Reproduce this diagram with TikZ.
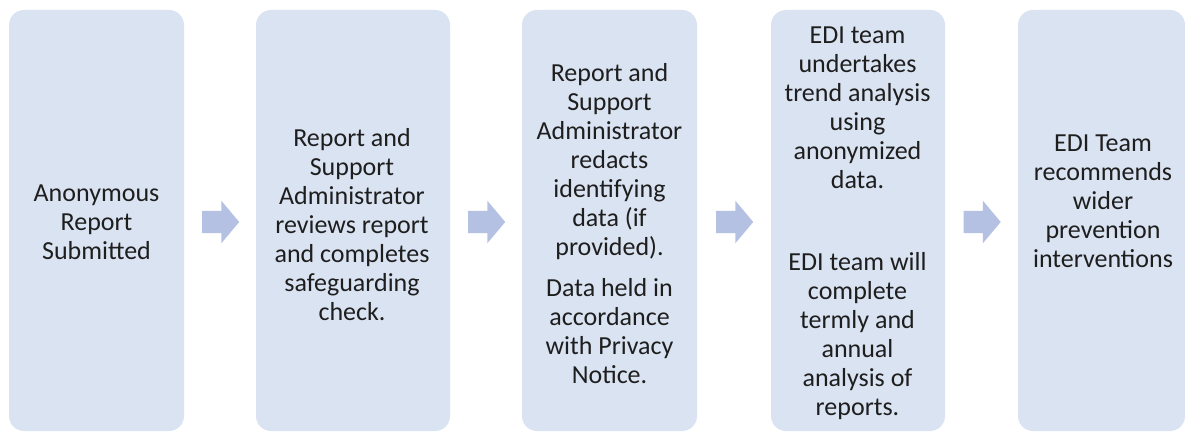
\documentclass[tikz,border=0pt]{standalone}
\usepackage{fontspec}
\setmainfont{Carlito}
\usetikzlibrary{shapes.arrows,calc}
\definecolor{boxc}{HTML}{DAE3F1}
\definecolor{arrowc}{HTML}{B4C1E2}
\definecolor{txtc}{HTML}{1E1E1E}
\tikzset{
  stepbox/.style={rectangle, rounded corners=15pt, fill=boxc, draw=none, inner sep=0pt},
  steptext/.style={align=center, text=txtc, font=\fontsize{26}{29}\selectfont, inner sep=0pt},
  flowarrow/.style={single arrow, fill=arrowc, draw=none, minimum height=37pt, minimum width=42pt,
    inner xsep=0pt, inner ysep=11pt, single arrow tip angle=100, single arrow head extend=10pt}
}
\begin{document}
\begin{tikzpicture}[x=1pt,y=-1pt]
\useasboundingbox (0,0) rectangle (1185,433);
% boxes
\node[stepbox, minimum width=175pt, minimum height=421pt] (b1) at (96.5,220.5) {};
\node[stepbox, minimum width=194pt, minimum height=421pt] (b2) at (353,220.5) {};
\node[stepbox, minimum width=175pt, minimum height=421pt] (b3) at (609.5,220.5) {};
\node[stepbox, minimum width=174pt, minimum height=421pt] (b4) at (858,220.5) {};
\node[stepbox, minimum width=167pt, minimum height=421pt] (b5) at (1101.5,220.5) {};
% texts
\node[steptext] (t1) at (96.5,222.5) {Anonymous\\Report\\Submitted};
\node[steptext] (t2) at (352,224.5) {Report and\\Support\\Administrator\\reviews report\\and completes\\safeguarding\\check.};
\node[steptext] (t3) at (609.5,224) {Report and\\Support\\Administrator\\redacts\\identifying\\data (if\\provided).\\[12pt]Data held in\\accordance\\with Privacy\\Notice.};
\node[steptext] (t4) at (857.5,223.5) {EDI team\\undertakes\\trend analysis\\using\\anonymized\\data.\\[53pt]EDI team will\\complete\\termly and\\annual\\analysis of\\reports.};
\node[steptext] (t5) at (1103,201.5) {EDI Team\\recommends\\wider\\prevention\\interventions};
% arrows
\node[flowarrow] (a1) at ($(b1.east)!0.5!(b2.west)+(-4,1.5)$) {};
\node[flowarrow] (a2) at ($(b2.east)!0.5!(b3.west)+(-4,1.5)$) {};
\node[flowarrow] (a3) at ($(b3.east)!0.5!(b4.west)+(-4,1.5)$) {};
\node[flowarrow] (a4) at ($(b4.east)!0.5!(b5.west)+(-4,1.5)$) {};
\end{tikzpicture}
\end{document}
